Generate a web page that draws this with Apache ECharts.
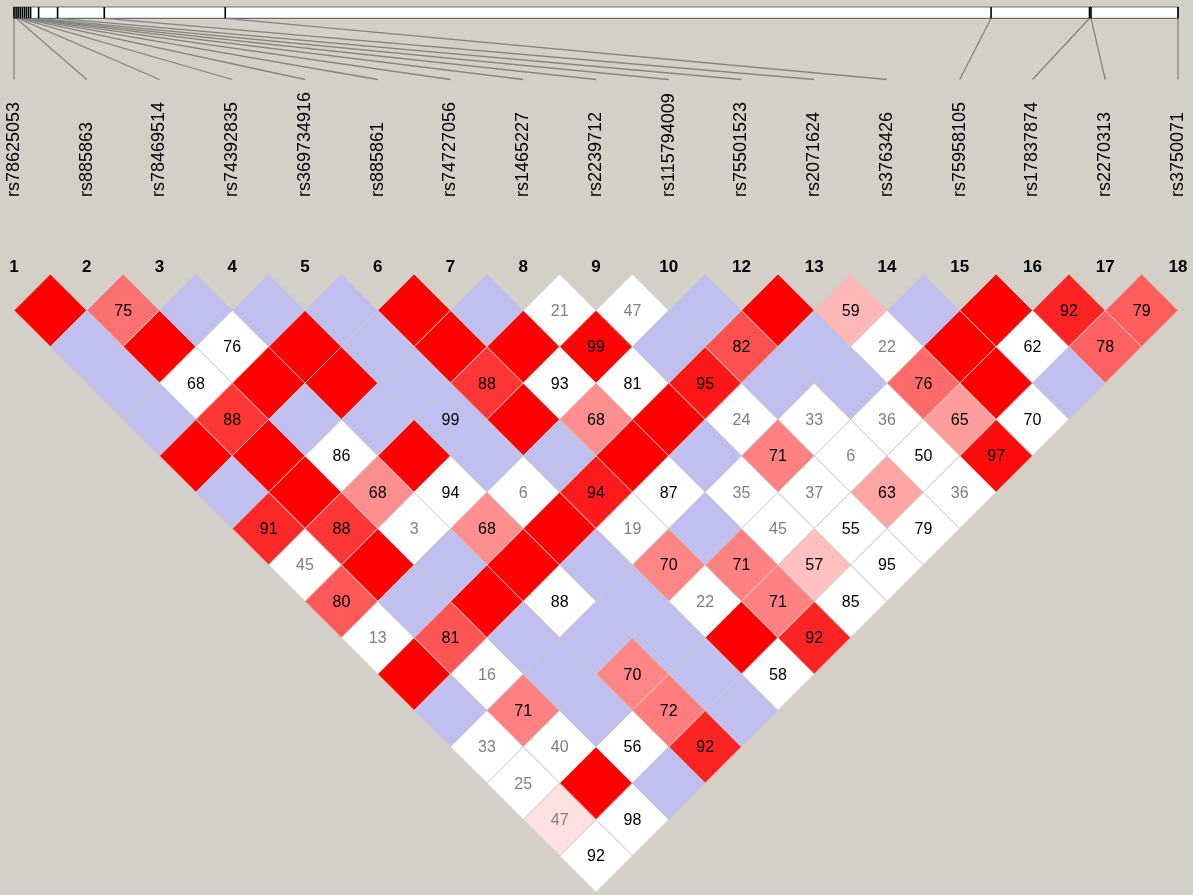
<!DOCTYPE html>
<html>
<head>
<meta charset="utf-8">
<script src="https://cdn.jsdelivr.net/npm/echarts@6/dist/echarts.min.js"></script>
<style>
html,body{margin:0;padding:0;background:#d4d0c8;}
#chart{width:1193px;height:895px;}
</style>
</head>
<body>
<div id="chart"></div>
<script>
// ---------- DATA ----------
const markerNumbers = [1,2,3,4,5,6,7,8,9,10,12,13,14,15,16,17,18];
const snpNames = ['rs78625053','rs885863','rs78469514','rs74392835','rs369734916','rs885861',
  'rs74727056','rs1465227','rs2239712','rs115794009','rs75501523','rs2071624','rs3763426',
  'rs75958105','rs17837874','rs2270313','rs3750071'];
// relative physical positions (kb) of the markers along the region bar
const physicalPositionsKb = [0, 0.21, 0.41, 0.62, 0.83, 1.04, 1.24, 1.45, 1.66, 2.46, 4.36,
  9.03, 21.13, 97.73, 107.58, 107.73, 116.43];
// LD cells by marker distance (1 = adjacent pairs). R: D'=1 LOD>=2, B: D'=1 LOD<2,
// pNN: D'=NN LOD>=2, wNN: D'=NN LOD<2, bNN: shown on blue
const ldDist1  = ['R','p75','B','B','B','R','B','w21','w47','B','R','p59','B','R','p92','p79'];
const ldDist2  = ['B','R','w76','R','B','R','R','p99','B','p82','B','w22','R','w62','p78'];
const ldDist3  = ['B','w68','R','R','B','p88','w93','w81','p95','B','B','p76','R','B'];
const ldDist4  = ['B','p88','B','B','b99','R','p68','R','w24','w33','w36','p65','w70'];
const ldDist5  = ['R','R','w86','R','B','B','R','B','p71','w6','w50','p97'];
const ldDist6  = ['B','R','p68','w94','w6','p94','w87','w35','w37','p63','w36'];
const ldDist7  = ['p91','p88','w3','p68','R','w19','B','w45','w55','w79'];
const ldDist8  = ['w45','R','B','R','B','p70','p71','p57','w95'];
const ldDist9  = ['p80','B','R','w88','B','w22','p71','w85'];
const ldDist10 = ['w13','p81','B','B','B','R','p92'];
const ldDist11 = ['R','w16','B','p70','B','w58'];
const ldDist12 = ['B','p71','B','p72','B'];
const ldDist13 = ['w33','w40','w56','p92'];
const ldDist14 = ['w25','R','B'];
const ldDist15 = ['p47','w98'];
const ldDist16 = ['w92'];
const ldByDistance = [ldDist1,ldDist2,ldDist3,ldDist4,ldDist5,ldDist6,ldDist7,ldDist8,
  ldDist9,ldDist10,ldDist11,ldDist12,ldDist13,ldDist14,ldDist15,ldDist16];

// ---------- BUILD ----------
const nM = markerNumbers.length;
const physMax = physicalPositionsKb[nM - 1];
const FONT = '"Liberation Sans", Arial, sans-serif';

const cells = [];
ldByDistance.forEach((row, k) => {
  const d = k + 1;
  row.forEach((code, i) => {
    const j = i + d;
    let kind, val = -1;
    if (code === 'R') kind = 0;
    else if (code === 'B') kind = 1;
    else {
      val = parseInt(code.slice(1), 10);
      kind = code[0] === 'p' ? 2 : (code[0] === 'w' ? 3 : 1);
    }
    cells.push([(i + j) / 2, d / 2, kind, val]);
  });
});

function cellColor(kind, val) {
  if (kind === 0) return 'rgb(255,0,0)';
  if (kind === 1) return 'rgb(192,192,240)';
  if (kind === 3) return '#ffffff';
  const dp = val / 100;
  const c = dp < 0.5 ? 224 : Math.round(223 * 2 * (1 - dp));
  return 'rgb(255,' + c + ',' + c + ')';
}

const BAR_H = 11.3, LINE_END = 72.5, LABEL_Y = 190;

const chart = echarts.init(document.getElementById('chart'));
chart.setOption({
  backgroundColor: '#d4d0c8',
  animation: false,
  grid: [
    {left: 14, right: 15, top: 274, height: 618.4},
    {left: 14, right: 15, top: 7, height: LABEL_Y}
  ],
  xAxis: [
    {gridIndex: 0, type: 'value', min: 0, max: nM - 1, interval: 1, position: 'top',
      axisLine: {show: false}, axisTick: {show: false}, splitLine: {show: false},
      axisLabel: {formatter: v => String(markerNumbers[v]), fontWeight: 'bold', fontSize: 17,
        fontFamily: FONT, color: '#000', margin: -2, showMinLabel: true, showMaxLabel: true}},
    {gridIndex: 1, type: 'value', min: 0, max: physMax, show: false}
  ],
  yAxis: [
    {gridIndex: 0, type: 'value', min: 0, max: 8.5, inverse: true, show: false},
    {gridIndex: 1, type: 'value', min: 0, max: LABEL_Y, inverse: true, show: false}
  ],
  series: [
    {
      type: 'custom', xAxisIndex: 0, yAxisIndex: 0, clip: false,
      data: cells,
      renderItem: function (params, api) {
        const cx = api.value(0), cy = api.value(1), kind = api.value(2), val = api.value(3);
        const t = api.coord([cx, cy - 0.5]), r = api.coord([cx + 0.5, cy]);
        const b = api.coord([cx, cy + 0.5]), l = api.coord([cx - 0.5, cy]);
        const c = api.coord([cx, cy]);
        const children = [{
          type: 'polygon',
          shape: {points: [t, r, b, l]},
          style: {fill: cellColor(kind, val), stroke: 'rgba(205,202,196,0.95)', lineWidth: 1}
        }];
        if (val >= 0) {
          children.push({
            type: 'text',
            style: {text: String(val), x: c[0], y: c[1] + 1, align: 'center', verticalAlign: 'middle',
              fontSize: 16, fontFamily: FONT, fill: val < 50 ? '#7f7f7f' : '#000'}
          });
        }
        return {type: 'group', children: children};
      }
    },
    {
      // region bar
      type: 'custom', xAxisIndex: 1, yAxisIndex: 1, clip: false,
      data: [[0, physMax]],
      renderItem: function (params, api) {
        const p0 = api.coord([api.value(0), 0]), p1 = api.coord([api.value(1), BAR_H]);
        return {type: 'rect', shape: {x: p0[0], y: p0[1], width: p1[0] - p0[0], height: p1[1] - p0[1]},
          style: {fill: '#fff', stroke: '#6e6e6e', lineWidth: 1.2}};
      }
    },
    {
      // marker ticks on the bar + connector lines
      type: 'custom', xAxisIndex: 1, yAxisIndex: 1, clip: false,
      data: physicalPositionsKb.map((p, i) => [p, i]),
      renderItem: function (params, api) {
        const p = api.value(0), i = api.value(1);
        const a = api.coord([p, 0]), b = api.coord([p, BAR_H]);
        const e = api.coord([i * physMax / (nM - 1), LINE_END]);
        return {type: 'group', children: [
          {type: 'line', shape: {x1: b[0], y1: b[1], x2: e[0], y2: e[1]},
            style: {stroke: '#86837e', lineWidth: 1.3}},
          {type: 'line', shape: {x1: a[0], y1: a[1], x2: b[0], y2: b[1]},
            style: {stroke: '#000', lineWidth: 1.6}}
        ]};
      }
    },
    {
      // SNP names
      type: 'custom', xAxisIndex: 1, yAxisIndex: 1, clip: false,
      data: snpNames.map((n, i) => [i * physMax / (nM - 1), LABEL_Y, i]),
      renderItem: function (params, api) {
        const pt = api.coord([api.value(0), api.value(1)]);
        return {type: 'text', x: pt[0], y: pt[1], rotation: Math.PI / 2,
          style: {text: snpNames[api.value(2)], x: 0, y: 0, align: 'left', verticalAlign: 'middle',
            fontSize: 18, fontFamily: FONT, fill: '#000'}};
      }
    }
  ]
});
</script>
</body>
</html>
